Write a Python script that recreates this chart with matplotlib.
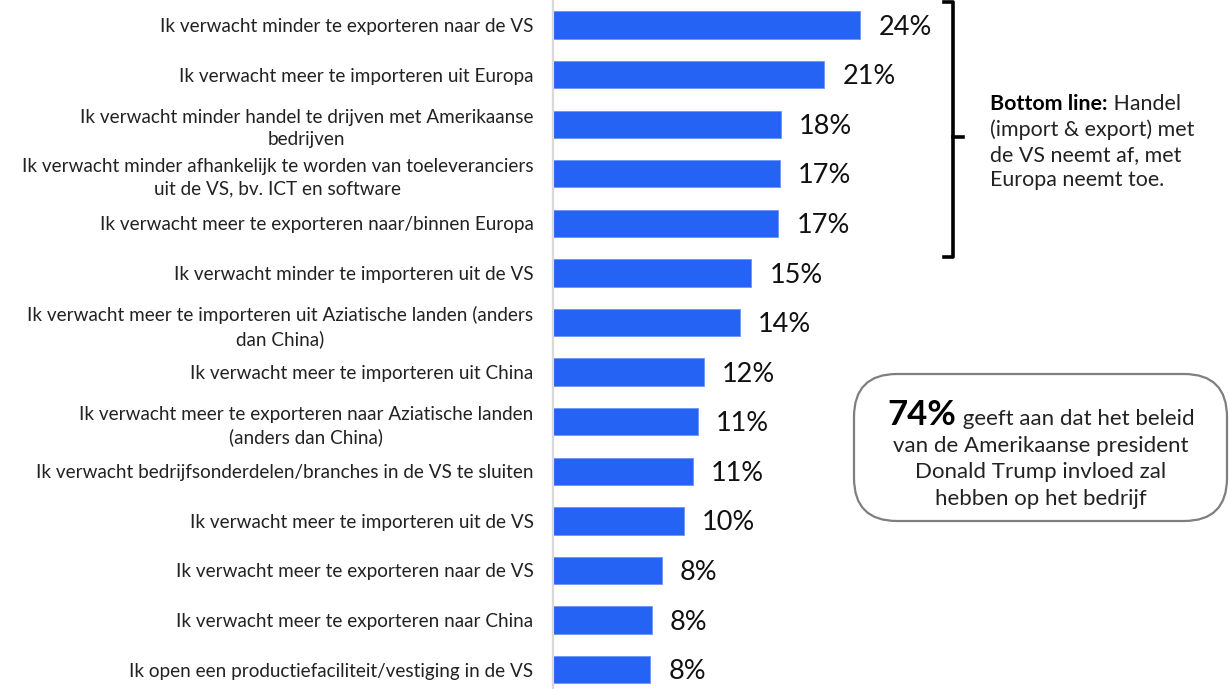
import matplotlib
matplotlib.use("Agg")
import matplotlib.pyplot as plt
from matplotlib.patches import FancyBboxPatch
from matplotlib.lines import Line2D

categories = [
    "Ik verwacht minder te exporteren naar de VS",
    "Ik verwacht meer te importeren uit Europa",
    "Ik verwacht minder handel te drijven met Amerikaanse\nbedrijven",
    "Ik verwacht minder afhankelijk te worden van toeleveranciers\nuit de VS, bv. ICT en software",
    "Ik verwacht meer te exporteren naar/binnen Europa",
    "Ik verwacht minder te importeren uit de VS",
    "Ik verwacht meer te importeren uit Aziatische landen (anders\ndan China)",
    "Ik verwacht meer te importeren uit China",
    "Ik verwacht meer te exporteren naar Aziatische landen\n(anders dan China)",
    "Ik verwacht bedrijfsonderdelen/branches in de VS te sluiten",
    "Ik verwacht meer te importeren uit de VS",
    "Ik verwacht meer te exporteren naar de VS",
    "Ik verwacht meer te exporteren naar China",
    "Ik open een productiefaciliteit/vestiging in de VS",
]
values = [24.0, 21.2, 17.8, 17.7, 17.6, 15.5, 14.6, 11.8, 11.3, 10.9, 10.2, 8.5, 7.7, 7.6]
value_labels = ["24%", "21%", "18%", "17%", "17%", "15%", "14%", "12%", "11%", "11%",
                "10%", "8%", "8%", "8%"]

bottom_line_bold = "Bottom line:"
bottom_line_lines = [" Handel", "(import & export) met", "de VS neemt af, met", "Europa neemt toe."]
box_bold = "74%"
box_lines = [" geeft aan dat het beleid", "van de Amerikaanse president",
             "Donald Trump invloed zal", "hebben op het bedrijf"]

FONT = "Lato"
plt.rcParams["font.family"] = [FONT, "DejaVu Sans"]

W, H = 1229, 689
fig = plt.figure(figsize=(W / 100, H / 100), dpi=100)
ax = fig.add_axes([553 / W, 0, 1 - 553 / W, 1])

BAR_COLOR = "#2563F5"
ypos = list(range(len(categories)))
ax.barh(ypos, values, height=0.55, color=BAR_COLOR, edgecolor="#6d93f7", linewidth=0.6)

ax.set_xlim(0, (W - 553) / 12.8)
ax.set_ylim(13.39, -0.504)
ax.set_yticks(ypos)
ax.set_yticklabels(categories, fontsize=13.6, color="#222222", multialignment="center",
                   linespacing=1.4)
ax.tick_params(axis="y", length=0, pad=14)
ax.set_xticks([])
for s in ["top", "right", "bottom"]:
    ax.spines[s].set_visible(False)
ax.spines["left"].set_color("#d9d9d9")
ax.spines["left"].set_linewidth(1.6)

for y, v, lab in zip(ypos, values, value_labels):
    ax.annotate(lab, xy=(v, y), xytext=(13, -1.5), textcoords="offset points",
                ha="left", va="center", fontsize=19.5, color="#111111")

def fx(px):
    return px / W

def fy(py):
    return 1 - py / H

# Bracket
lw = 2.6
bracket_pts = [(944, 2), (953, 2), (953, 257), (944, 257)]
fig.add_artist(Line2D([fx(p[0]) for p in bracket_pts], [fy(p[1]) for p in bracket_pts],
                      color="black", lw=lw, solid_joinstyle="round"))
fig.add_artist(Line2D([fx(953), fx(963)], [fy(137), fy(137)], color="black", lw=lw))

# Rounded box
box = FancyBboxPatch((fx(854), fy(521)), fx(1227) - fx(854), fy(374) - fy(521),
                     boxstyle="round,pad=0,rounding_size=0.035",
                     transform=fig.transFigure, facecolor="white", edgecolor="#7f7f7f",
                     linewidth=1.6, mutation_aspect=W / H)
fig.add_artist(box)

# Bottom-line text
bl_fs = 15.4
bl_x = 990
bl_y0 = 110
bl_dy = 25.5
t_bold = fig.text(fx(bl_x), fy(bl_y0), bottom_line_bold, fontsize=bl_fs, fontweight="bold",
                  ha="left", va="baseline", color="black")
t_rest = fig.text(fx(bl_x), fy(bl_y0), bottom_line_lines[0], fontsize=bl_fs,
                  ha="left", va="baseline", color="#222222")
for i, line in enumerate(bottom_line_lines[1:], start=1):
    fig.text(fx(bl_x), fy(bl_y0 + i * bl_dy), line, fontsize=bl_fs, ha="left",
             va="baseline", color="#222222")

# Box text
cx = 1041
bx_fs = 16
b0 = 425
bdy = 26.7
t74 = fig.text(0, fy(b0), box_bold, fontsize=25, fontweight="bold", ha="left",
               va="baseline", color="black")
tgeeft = fig.text(0, fy(b0), box_lines[0], fontsize=bx_fs, ha="left", va="baseline",
                  color="#222222")
for i, line in enumerate(box_lines[1:], start=1):
    fig.text(fx(cx), fy(b0 + i * bdy), line, fontsize=bx_fs, ha="center", va="baseline",
             color="#222222")

fig.canvas.draw()
r = fig.canvas.get_renderer()
wb = t_bold.get_window_extent(r)
t_rest.set_x(wb.x1 / W)
w1 = t74.get_window_extent(r).width
w2 = tgeeft.get_window_extent(r).width
start = cx - (w1 + w2) / 2
t74.set_x(fx(start))
tgeeft.set_x(fx(start + w1))

fig.savefig("out.png", dpi=100)
